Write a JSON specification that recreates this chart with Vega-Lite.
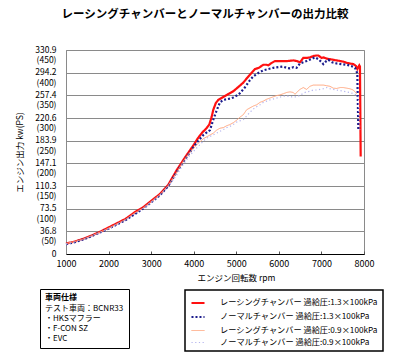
{
  "$schema": "https://vega.github.io/schema/vega-lite/v6.json",
  "autosize": {"type": "none"},
  "width": 298,
  "height": 204,
  "padding": {"left": 66, "top": 50, "right": 36, "bottom": 109},
  "background": "white",
  "config": {
    "font": "Noto Sans CJK JP",
    "view": {"stroke": "#8a8a8a", "strokeWidth": 1}
  },
  "title": {
    "text": "レーシングチャンバーとノーマルチャンバーの出力比較",
    "fontSize": 11.5,
    "fontWeight": "bold",
    "color": "#000000",
    "anchor": "middle",
    "dx": -10,
    "offset": 25
  },
  "datasets": {
    "power": [
      {"s": "レーシングチャンバー 過給圧:1.3×100kPa", "rpm": 1000, "kw": 17},
      {"s": "レーシングチャンバー 過給圧:1.3×100kPa", "rpm": 1200, "kw": 20},
      {"s": "レーシングチャンバー 過給圧:1.3×100kPa", "rpm": 1400, "kw": 24.5},
      {"s": "レーシングチャンバー 過給圧:1.3×100kPa", "rpm": 1600, "kw": 30},
      {"s": "レーシングチャンバー 過給圧:1.3×100kPa", "rpm": 1800, "kw": 36},
      {"s": "レーシングチャンバー 過給圧:1.3×100kPa", "rpm": 2000, "kw": 43},
      {"s": "レーシングチャンバー 過給圧:1.3×100kPa", "rpm": 2200, "kw": 50},
      {"s": "レーシングチャンバー 過給圧:1.3×100kPa", "rpm": 2400, "kw": 57},
      {"s": "レーシングチャンバー 過給圧:1.3×100kPa", "rpm": 2600, "kw": 67},
      {"s": "レーシングチャンバー 過給圧:1.3×100kPa", "rpm": 2800, "kw": 75},
      {"s": "レーシングチャンバー 過給圧:1.3×100kPa", "rpm": 3000, "kw": 86},
      {"s": "レーシングチャンバー 過給圧:1.3×100kPa", "rpm": 3200, "kw": 97},
      {"s": "レーシングチャンバー 過給圧:1.3×100kPa", "rpm": 3400, "kw": 112},
      {"s": "レーシングチャンバー 過給圧:1.3×100kPa", "rpm": 3600, "kw": 136},
      {"s": "レーシングチャンバー 過給圧:1.3×100kPa", "rpm": 3800, "kw": 157},
      {"s": "レーシングチャンバー 過給圧:1.3×100kPa", "rpm": 4000, "kw": 177},
      {"s": "レーシングチャンバー 過給圧:1.3×100kPa", "rpm": 4100, "kw": 188},
      {"s": "レーシングチャンバー 過給圧:1.3×100kPa", "rpm": 4200, "kw": 197},
      {"s": "レーシングチャンバー 過給圧:1.3×100kPa", "rpm": 4300, "kw": 204},
      {"s": "レーシングチャンバー 過給圧:1.3×100kPa", "rpm": 4366, "kw": 210},
      {"s": "レーシングチャンバー 過給圧:1.3×100kPa", "rpm": 4420, "kw": 222},
      {"s": "レーシングチャンバー 過給圧:1.3×100kPa", "rpm": 4460, "kw": 234},
      {"s": "レーシングチャンバー 過給圧:1.3×100kPa", "rpm": 4520, "kw": 245},
      {"s": "レーシングチャンバー 過給圧:1.3×100kPa", "rpm": 4578, "kw": 250},
      {"s": "レーシングチャンバー 過給圧:1.3×100kPa", "rpm": 4700, "kw": 255},
      {"s": "レーシングチャンバー 過給圧:1.3×100kPa", "rpm": 4800, "kw": 259},
      {"s": "レーシングチャンバー 過給圧:1.3×100kPa", "rpm": 4930, "kw": 264},
      {"s": "レーシングチャンバー 過給圧:1.3×100kPa", "rpm": 5050, "kw": 271},
      {"s": "レーシングチャンバー 過給圧:1.3×100kPa", "rpm": 5165, "kw": 278},
      {"s": "レーシングチャンバー 過給圧:1.3×100kPa", "rpm": 5260, "kw": 286},
      {"s": "レーシングチャンバー 過給圧:1.3×100kPa", "rpm": 5362, "kw": 294},
      {"s": "レーシングチャンバー 過給圧:1.3×100kPa", "rpm": 5440, "kw": 300},
      {"s": "レーシングチャンバー 過給圧:1.3×100kPa", "rpm": 5530, "kw": 302},
      {"s": "レーシングチャンバー 過給圧:1.3×100kPa", "rpm": 5635, "kw": 307},
      {"s": "レーシングチャンバー 過給圧:1.3×100kPa", "rpm": 5713, "kw": 307},
      {"s": "レーシングチャンバー 過給圧:1.3×100kPa", "rpm": 5753, "kw": 306},
      {"s": "レーシングチャンバー 過給圧:1.3×100kPa", "rpm": 5831, "kw": 310},
      {"s": "レーシングチャンバー 過給圧:1.3×100kPa", "rpm": 5909, "kw": 313},
      {"s": "レーシングチャンバー 過給圧:1.3×100kPa", "rpm": 6000, "kw": 313},
      {"s": "レーシングチャンバー 過給圧:1.3×100kPa", "rpm": 6104, "kw": 313},
      {"s": "レーシングチャンバー 過給圧:1.3×100kPa", "rpm": 6200, "kw": 313},
      {"s": "レーシングチャンバー 過給圧:1.3×100kPa", "rpm": 6339, "kw": 314},
      {"s": "レーシングチャンバー 過給圧:1.3×100kPa", "rpm": 6417, "kw": 313},
      {"s": "レーシングチャンバー 過給圧:1.3×100kPa", "rpm": 6497, "kw": 311},
      {"s": "レーシングチャンバー 過給圧:1.3×100kPa", "rpm": 6574, "kw": 318},
      {"s": "レーシングチャンバー 過給圧:1.3×100kPa", "rpm": 6652, "kw": 318},
      {"s": "レーシングチャンバー 過給圧:1.3×100kPa", "rpm": 6731, "kw": 319},
      {"s": "レーシングチャンバー 過給圧:1.3×100kPa", "rpm": 6809, "kw": 321},
      {"s": "レーシングチャンバー 過給圧:1.3×100kPa", "rpm": 6880, "kw": 322},
      {"s": "レーシングチャンバー 過給圧:1.3×100kPa", "rpm": 6927, "kw": 322},
      {"s": "レーシングチャンバー 過給圧:1.3×100kPa", "rpm": 7005, "kw": 318},
      {"s": "レーシングチャンバー 過給圧:1.3×100kPa", "rpm": 7044, "kw": 319},
      {"s": "レーシングチャンバー 過給圧:1.3×100kPa", "rpm": 7120, "kw": 317},
      {"s": "レーシングチャンバー 過給圧:1.3×100kPa", "rpm": 7201, "kw": 316},
      {"s": "レーシングチャンバー 過給圧:1.3×100kPa", "rpm": 7280, "kw": 315},
      {"s": "レーシングチャンバー 過給圧:1.3×100kPa", "rpm": 7358, "kw": 314},
      {"s": "レーシングチャンバー 過給圧:1.3×100kPa", "rpm": 7440, "kw": 313},
      {"s": "レーシングチャンバー 過給圧:1.3×100kPa", "rpm": 7514, "kw": 312},
      {"s": "レーシングチャンバー 過給圧:1.3×100kPa", "rpm": 7600, "kw": 310},
      {"s": "レーシングチャンバー 過給圧:1.3×100kPa", "rpm": 7671, "kw": 309},
      {"s": "レーシングチャンバー 過給圧:1.3×100kPa", "rpm": 7750, "kw": 308},
      {"s": "レーシングチャンバー 過給圧:1.3×100kPa", "rpm": 7812, "kw": 305},
      {"s": "レーシングチャンバー 過給圧:1.3×100kPa", "rpm": 7843, "kw": 300},
      {"s": "レーシングチャンバー 過給圧:1.3×100kPa", "rpm": 7890, "kw": 306},
      {"s": "レーシングチャンバー 過給圧:1.3×100kPa", "rpm": 7905, "kw": 304},
      {"s": "レーシングチャンバー 過給圧:1.3×100kPa", "rpm": 7922, "kw": 158},

      {"s": "ノーマルチャンバー 過給圧:1.3×100kPa", "rpm": 1000, "kw": 16},
      {"s": "ノーマルチャンバー 過給圧:1.3×100kPa", "rpm": 1200, "kw": 19},
      {"s": "ノーマルチャンバー 過給圧:1.3×100kPa", "rpm": 1400, "kw": 23.5},
      {"s": "ノーマルチャンバー 過給圧:1.3×100kPa", "rpm": 1600, "kw": 29},
      {"s": "ノーマルチャンバー 過給圧:1.3×100kPa", "rpm": 1800, "kw": 35},
      {"s": "ノーマルチャンバー 過給圧:1.3×100kPa", "rpm": 2000, "kw": 41},
      {"s": "ノーマルチャンバー 過給圧:1.3×100kPa", "rpm": 2200, "kw": 48},
      {"s": "ノーマルチャンバー 過給圧:1.3×100kPa", "rpm": 2400, "kw": 55},
      {"s": "ノーマルチャンバー 過給圧:1.3×100kPa", "rpm": 2600, "kw": 64},
      {"s": "ノーマルチャンバー 過給圧:1.3×100kPa", "rpm": 2800, "kw": 73},
      {"s": "ノーマルチャンバー 過給圧:1.3×100kPa", "rpm": 3000, "kw": 84},
      {"s": "ノーマルチャンバー 過給圧:1.3×100kPa", "rpm": 3200, "kw": 95},
      {"s": "ノーマルチャンバー 過給圧:1.3×100kPa", "rpm": 3400, "kw": 110},
      {"s": "ノーマルチャンバー 過給圧:1.3×100kPa", "rpm": 3600, "kw": 133},
      {"s": "ノーマルチャンバー 過給圧:1.3×100kPa", "rpm": 3800, "kw": 154},
      {"s": "ノーマルチャンバー 過給圧:1.3×100kPa", "rpm": 4000, "kw": 174},
      {"s": "ノーマルチャンバー 過給圧:1.3×100kPa", "rpm": 4100, "kw": 183},
      {"s": "ノーマルチャンバー 過給圧:1.3×100kPa", "rpm": 4226, "kw": 193},
      {"s": "ノーマルチャンバー 過給圧:1.3×100kPa", "rpm": 4382, "kw": 201},
      {"s": "ノーマルチャンバー 過給圧:1.3×100kPa", "rpm": 4460, "kw": 218},
      {"s": "ノーマルチャンバー 過給圧:1.3×100kPa", "rpm": 4540, "kw": 233},
      {"s": "ノーマルチャンバー 過給圧:1.3×100kPa", "rpm": 4617, "kw": 246},
      {"s": "ノーマルチャンバー 過給圧:1.3×100kPa", "rpm": 4700, "kw": 250},
      {"s": "ノーマルチャンバー 過給圧:1.3×100kPa", "rpm": 4852, "kw": 252},
      {"s": "ノーマルチャンバー 過給圧:1.3×100kPa", "rpm": 4930, "kw": 254},
      {"s": "ノーマルチャンバー 過給圧:1.3×100kPa", "rpm": 5010, "kw": 257},
      {"s": "ノーマルチャンバー 過給圧:1.3×100kPa", "rpm": 5087, "kw": 261},
      {"s": "ノーマルチャンバー 過給圧:1.3×100kPa", "rpm": 5200, "kw": 270},
      {"s": "ノーマルチャンバー 過給圧:1.3×100kPa", "rpm": 5322, "kw": 282},
      {"s": "ノーマルチャンバー 過給圧:1.3×100kPa", "rpm": 5400, "kw": 288},
      {"s": "ノーマルチャンバー 過給圧:1.3×100kPa", "rpm": 5479, "kw": 292},
      {"s": "ノーマルチャンバー 過給圧:1.3×100kPa", "rpm": 5557, "kw": 295},
      {"s": "ノーマルチャンバー 過給圧:1.3×100kPa", "rpm": 5635, "kw": 298},
      {"s": "ノーマルチャンバー 過給圧:1.3×100kPa", "rpm": 5750, "kw": 300},
      {"s": "ノーマルチャンバー 過給圧:1.3×100kPa", "rpm": 5870, "kw": 302},
      {"s": "ノーマルチャンバー 過給圧:1.3×100kPa", "rpm": 5990, "kw": 303},
      {"s": "ノーマルチャンバー 過給圧:1.3×100kPa", "rpm": 6104, "kw": 304},
      {"s": "ノーマルチャンバー 過給圧:1.3×100kPa", "rpm": 6180, "kw": 302},
      {"s": "ノーマルチャンバー 過給圧:1.3×100kPa", "rpm": 6261, "kw": 301},
      {"s": "ノーマルチャンバー 過給圧:1.3×100kPa", "rpm": 6340, "kw": 303},
      {"s": "ノーマルチャンバー 過給圧:1.3×100kPa", "rpm": 6417, "kw": 302},
      {"s": "ノーマルチャンバー 過給圧:1.3×100kPa", "rpm": 6497, "kw": 309},
      {"s": "ノーマルチャンバー 過給圧:1.3×100kPa", "rpm": 6574, "kw": 311},
      {"s": "ノーマルチャンバー 過給圧:1.3×100kPa", "rpm": 6652, "kw": 313},
      {"s": "ノーマルチャンバー 過給圧:1.3×100kPa", "rpm": 6750, "kw": 316},
      {"s": "ノーマルチャンバー 過給圧:1.3×100kPa", "rpm": 6849, "kw": 319},
      {"s": "ノーマルチャンバー 過給圧:1.3×100kPa", "rpm": 6927, "kw": 316},
      {"s": "ノーマルチャンバー 過給圧:1.3×100kPa", "rpm": 6990, "kw": 312},
      {"s": "ノーマルチャンバー 過給圧:1.3×100kPa", "rpm": 7044, "kw": 308},
      {"s": "ノーマルチャンバー 過給圧:1.3×100kPa", "rpm": 7100, "kw": 312},
      {"s": "ノーマルチャンバー 過給圧:1.3×100kPa", "rpm": 7162, "kw": 315},
      {"s": "ノーマルチャンバー 過給圧:1.3×100kPa", "rpm": 7250, "kw": 311},
      {"s": "ノーマルチャンバー 過給圧:1.3×100kPa", "rpm": 7358, "kw": 309},
      {"s": "ノーマルチャンバー 過給圧:1.3×100kPa", "rpm": 7470, "kw": 308},
      {"s": "ノーマルチャンバー 過給圧:1.3×100kPa", "rpm": 7593, "kw": 307},
      {"s": "ノーマルチャンバー 過給圧:1.3×100kPa", "rpm": 7700, "kw": 305},
      {"s": "ノーマルチャンバー 過給圧:1.3×100kPa", "rpm": 7789, "kw": 302},
      {"s": "ノーマルチャンバー 過給圧:1.3×100kPa", "rpm": 7843, "kw": 293},
      {"s": "ノーマルチャンバー 過給圧:1.3×100kPa", "rpm": 7867, "kw": 200},

      {"s": "レーシングチャンバー 過給圧:0.9×100kPa", "rpm": 1000, "kw": 17},
      {"s": "レーシングチャンバー 過給圧:0.9×100kPa", "rpm": 1200, "kw": 20},
      {"s": "レーシングチャンバー 過給圧:0.9×100kPa", "rpm": 1400, "kw": 24},
      {"s": "レーシングチャンバー 過給圧:0.9×100kPa", "rpm": 1600, "kw": 29.5},
      {"s": "レーシングチャンバー 過給圧:0.9×100kPa", "rpm": 1800, "kw": 35.5},
      {"s": "レーシングチャンバー 過給圧:0.9×100kPa", "rpm": 2000, "kw": 42},
      {"s": "レーシングチャンバー 過給圧:0.9×100kPa", "rpm": 2200, "kw": 49},
      {"s": "レーシングチャンバー 過給圧:0.9×100kPa", "rpm": 2400, "kw": 56},
      {"s": "レーシングチャンバー 過給圧:0.9×100kPa", "rpm": 2600, "kw": 66},
      {"s": "レーシングチャンバー 過給圧:0.9×100kPa", "rpm": 2800, "kw": 74},
      {"s": "レーシングチャンバー 過給圧:0.9×100kPa", "rpm": 3000, "kw": 85},
      {"s": "レーシングチャンバー 過給圧:0.9×100kPa", "rpm": 3200, "kw": 96},
      {"s": "レーシングチャンバー 過給圧:0.9×100kPa", "rpm": 3400, "kw": 111},
      {"s": "レーシングチャンバー 過給圧:0.9×100kPa", "rpm": 3600, "kw": 132},
      {"s": "レーシングチャンバー 過給圧:0.9×100kPa", "rpm": 3750, "kw": 150},
      {"s": "レーシングチャンバー 過給圧:0.9×100kPa", "rpm": 3900, "kw": 164},
      {"s": "レーシングチャンバー 過給圧:0.9×100kPa", "rpm": 4070, "kw": 177},
      {"s": "レーシングチャンバー 過給圧:0.9×100kPa", "rpm": 4226, "kw": 187},
      {"s": "レーシングチャンバー 過給圧:0.9×100kPa", "rpm": 4382, "kw": 193},
      {"s": "レーシングチャンバー 過給圧:0.9×100kPa", "rpm": 4460, "kw": 196},
      {"s": "レーシングチャンバー 過給圧:0.9×100kPa", "rpm": 4540, "kw": 201},
      {"s": "レーシングチャンバー 過給圧:0.9×100kPa", "rpm": 4617, "kw": 204},
      {"s": "レーシングチャンバー 過給圧:0.9×100kPa", "rpm": 4695, "kw": 205},
      {"s": "レーシングチャンバー 過給圧:0.9×100kPa", "rpm": 4774, "kw": 208},
      {"s": "レーシングチャンバー 過給圧:0.9×100kPa", "rpm": 4852, "kw": 210},
      {"s": "レーシングチャンバー 過給圧:0.9×100kPa", "rpm": 4930, "kw": 213},
      {"s": "レーシングチャンバー 過給圧:0.9×100kPa", "rpm": 5008, "kw": 217},
      {"s": "レーシングチャンバー 過給圧:0.9×100kPa", "rpm": 5087, "kw": 222},
      {"s": "レーシングチャンバー 過給圧:0.9×100kPa", "rpm": 5165, "kw": 226},
      {"s": "レーシングチャンバー 過給圧:0.9×100kPa", "rpm": 5244, "kw": 234},
      {"s": "レーシングチャンバー 過給圧:0.9×100kPa", "rpm": 5322, "kw": 237},
      {"s": "レーシングチャンバー 過給圧:0.9×100kPa", "rpm": 5400, "kw": 240},
      {"s": "レーシングチャンバー 過給圧:0.9×100kPa", "rpm": 5479, "kw": 242},
      {"s": "レーシングチャンバー 過給圧:0.9×100kPa", "rpm": 5557, "kw": 246},
      {"s": "レーシングチャンバー 過給圧:0.9×100kPa", "rpm": 5635, "kw": 248},
      {"s": "レーシングチャンバー 過給圧:0.9×100kPa", "rpm": 5713, "kw": 251},
      {"s": "レーシングチャンバー 過給圧:0.9×100kPa", "rpm": 5792, "kw": 253},
      {"s": "レーシングチャンバー 過給圧:0.9×100kPa", "rpm": 5870, "kw": 255},
      {"s": "レーシングチャンバー 過給圧:0.9×100kPa", "rpm": 5948, "kw": 257},
      {"s": "レーシングチャンバー 過給圧:0.9×100kPa", "rpm": 6026, "kw": 258},
      {"s": "レーシングチャンバー 過給圧:0.9×100kPa", "rpm": 6104, "kw": 260},
      {"s": "レーシングチャンバー 過給圧:0.9×100kPa", "rpm": 6183, "kw": 262},
      {"s": "レーシングチャンバー 過給圧:0.9×100kPa", "rpm": 6261, "kw": 263},
      {"s": "レーシングチャンバー 過給圧:0.9×100kPa", "rpm": 6339, "kw": 262},
      {"s": "レーシングチャンバー 過給圧:0.9×100kPa", "rpm": 6380, "kw": 259},
      {"s": "レーシングチャンバー 過給圧:0.9×100kPa", "rpm": 6417, "kw": 262},
      {"s": "レーシングチャンバー 過給圧:0.9×100kPa", "rpm": 6496, "kw": 267},
      {"s": "レーシングチャンバー 過給圧:0.9×100kPa", "rpm": 6574, "kw": 270},
      {"s": "レーシングチャンバー 過給圧:0.9×100kPa", "rpm": 6652, "kw": 267},
      {"s": "レーシングチャンバー 過給圧:0.9×100kPa", "rpm": 6730, "kw": 272},
      {"s": "レーシングチャンバー 過給圧:0.9×100kPa", "rpm": 6809, "kw": 274},
      {"s": "レーシングチャンバー 過給圧:0.9×100kPa", "rpm": 6890, "kw": 274},
      {"s": "レーシングチャンバー 過給圧:0.9×100kPa", "rpm": 6966, "kw": 274},
      {"s": "レーシングチャンバー 過給圧:0.9×100kPa", "rpm": 7044, "kw": 274},
      {"s": "レーシングチャンバー 過給圧:0.9×100kPa", "rpm": 7122, "kw": 273},
      {"s": "レーシングチャンバー 過給圧:0.9×100kPa", "rpm": 7200, "kw": 272},
      {"s": "レーシングチャンバー 過給圧:0.9×100kPa", "rpm": 7280, "kw": 269},
      {"s": "レーシングチャンバー 過給圧:0.9×100kPa", "rpm": 7358, "kw": 268.5},
      {"s": "レーシングチャンバー 過給圧:0.9×100kPa", "rpm": 7440, "kw": 270},
      {"s": "レーシングチャンバー 過給圧:0.9×100kPa", "rpm": 7514, "kw": 270},
      {"s": "レーシングチャンバー 過給圧:0.9×100kPa", "rpm": 7593, "kw": 269},
      {"s": "レーシングチャンバー 過給圧:0.9×100kPa", "rpm": 7671, "kw": 268},
      {"s": "レーシングチャンバー 過給圧:0.9×100kPa", "rpm": 7749, "kw": 266},
      {"s": "レーシングチャンバー 過給圧:0.9×100kPa", "rpm": 7828, "kw": 260},

      {"s": "ノーマルチャンバー 過給圧:0.9×100kPa", "rpm": 1000, "kw": 16},
      {"s": "ノーマルチャンバー 過給圧:0.9×100kPa", "rpm": 1200, "kw": 19},
      {"s": "ノーマルチャンバー 過給圧:0.9×100kPa", "rpm": 1400, "kw": 23},
      {"s": "ノーマルチャンバー 過給圧:0.9×100kPa", "rpm": 1600, "kw": 28.5},
      {"s": "ノーマルチャンバー 過給圧:0.9×100kPa", "rpm": 1800, "kw": 34.5},
      {"s": "ノーマルチャンバー 過給圧:0.9×100kPa", "rpm": 2000, "kw": 41},
      {"s": "ノーマルチャンバー 過給圧:0.9×100kPa", "rpm": 2200, "kw": 48},
      {"s": "ノーマルチャンバー 過給圧:0.9×100kPa", "rpm": 2400, "kw": 55},
      {"s": "ノーマルチャンバー 過給圧:0.9×100kPa", "rpm": 2600, "kw": 64},
      {"s": "ノーマルチャンバー 過給圧:0.9×100kPa", "rpm": 2800, "kw": 73},
      {"s": "ノーマルチャンバー 過給圧:0.9×100kPa", "rpm": 3000, "kw": 84},
      {"s": "ノーマルチャンバー 過給圧:0.9×100kPa", "rpm": 3200, "kw": 95},
      {"s": "ノーマルチャンバー 過給圧:0.9×100kPa", "rpm": 3400, "kw": 109},
      {"s": "ノーマルチャンバー 過給圧:0.9×100kPa", "rpm": 3600, "kw": 128},
      {"s": "ノーマルチャンバー 過給圧:0.9×100kPa", "rpm": 3750, "kw": 145},
      {"s": "ノーマルチャンバー 過給圧:0.9×100kPa", "rpm": 3900, "kw": 159},
      {"s": "ノーマルチャンバー 過給圧:0.9×100kPa", "rpm": 4070, "kw": 172},
      {"s": "ノーマルチャンバー 過給圧:0.9×100kPa", "rpm": 4226, "kw": 183},
      {"s": "ノーマルチャンバー 過給圧:0.9×100kPa", "rpm": 4305, "kw": 188},
      {"s": "ノーマルチャンバー 過給圧:0.9×100kPa", "rpm": 4450, "kw": 193},
      {"s": "ノーマルチャンバー 過給圧:0.9×100kPa", "rpm": 4540, "kw": 196},
      {"s": "ノーマルチャンバー 過給圧:0.9×100kPa", "rpm": 4617, "kw": 199},
      {"s": "ノーマルチャンバー 過給圧:0.9×100kPa", "rpm": 4700, "kw": 202},
      {"s": "ノーマルチャンバー 過給圧:0.9×100kPa", "rpm": 4774, "kw": 205},
      {"s": "ノーマルチャンバー 過給圧:0.9×100kPa", "rpm": 4852, "kw": 207},
      {"s": "ノーマルチャンバー 過給圧:0.9×100kPa", "rpm": 4930, "kw": 210},
      {"s": "ノーマルチャンバー 過給圧:0.9×100kPa", "rpm": 5008, "kw": 214},
      {"s": "ノーマルチャンバー 過給圧:0.9×100kPa", "rpm": 5087, "kw": 216},
      {"s": "ノーマルチャンバー 過給圧:0.9×100kPa", "rpm": 5165, "kw": 218},
      {"s": "ノーマルチャンバー 過給圧:0.9×100kPa", "rpm": 5244, "kw": 224},
      {"s": "ノーマルチャンバー 過給圧:0.9×100kPa", "rpm": 5322, "kw": 230},
      {"s": "ノーマルチャンバー 過給圧:0.9×100kPa", "rpm": 5400, "kw": 235},
      {"s": "ノーマルチャンバー 過給圧:0.9×100kPa", "rpm": 5479, "kw": 239},
      {"s": "ノーマルチャンバー 過給圧:0.9×100kPa", "rpm": 5557, "kw": 242},
      {"s": "ノーマルチャンバー 過給圧:0.9×100kPa", "rpm": 5635, "kw": 246},
      {"s": "ノーマルチャンバー 過給圧:0.9×100kPa", "rpm": 5713, "kw": 248},
      {"s": "ノーマルチャンバー 過給圧:0.9×100kPa", "rpm": 5792, "kw": 250},
      {"s": "ノーマルチャンバー 過給圧:0.9×100kPa", "rpm": 5900, "kw": 252},
      {"s": "ノーマルチャンバー 過給圧:0.9×100kPa", "rpm": 6000, "kw": 254},
      {"s": "ノーマルチャンバー 過給圧:0.9×100kPa", "rpm": 6104, "kw": 256},
      {"s": "ノーマルチャンバー 過給圧:0.9×100kPa", "rpm": 6200, "kw": 256},
      {"s": "ノーマルチャンバー 過給圧:0.9×100kPa", "rpm": 6300, "kw": 255},
      {"s": "ノーマルチャンバー 過給圧:0.9×100kPa", "rpm": 6417, "kw": 255},
      {"s": "ノーマルチャンバー 過給圧:0.9×100kPa", "rpm": 6496, "kw": 257},
      {"s": "ノーマルチャンバー 過給圧:0.9×100kPa", "rpm": 6574, "kw": 261},
      {"s": "ノーマルチャンバー 過給圧:0.9×100kPa", "rpm": 6652, "kw": 263},
      {"s": "ノーマルチャンバー 過給圧:0.9×100kPa", "rpm": 6730, "kw": 264},
      {"s": "ノーマルチャンバー 過給圧:0.9×100kPa", "rpm": 6809, "kw": 266},
      {"s": "ノーマルチャンバー 過給圧:0.9×100kPa", "rpm": 6887, "kw": 266},
      {"s": "ノーマルチャンバー 過給圧:0.9×100kPa", "rpm": 6966, "kw": 267},
      {"s": "ノーマルチャンバー 過給圧:0.9×100kPa", "rpm": 7044, "kw": 268},
      {"s": "ノーマルチャンバー 過給圧:0.9×100kPa", "rpm": 7122, "kw": 270},
      {"s": "ノーマルチャンバー 過給圧:0.9×100kPa", "rpm": 7200, "kw": 268},
      {"s": "ノーマルチャンバー 過給圧:0.9×100kPa", "rpm": 7280, "kw": 267},
      {"s": "ノーマルチャンバー 過給圧:0.9×100kPa", "rpm": 7358, "kw": 266},
      {"s": "ノーマルチャンバー 過給圧:0.9×100kPa", "rpm": 7440, "kw": 265},
      {"s": "ノーマルチャンバー 過給圧:0.9×100kPa", "rpm": 7514, "kw": 264},
      {"s": "ノーマルチャンバー 過給圧:0.9×100kPa", "rpm": 7593, "kw": 263},
      {"s": "ノーマルチャンバー 過給圧:0.9×100kPa", "rpm": 7671, "kw": 262},
      {"s": "ノーマルチャンバー 過給圧:0.9×100kPa", "rpm": 7749, "kw": 260},
      {"s": "ノーマルチャンバー 過給圧:0.9×100kPa", "rpm": 7828, "kw": 258},
      {"s": "ノーマルチャンバー 過給圧:0.9×100kPa", "rpm": 7867, "kw": 255},
      {"s": "ノーマルチャンバー 過給圧:0.9×100kPa", "rpm": 7900, "kw": 201}
    ],
    "spec": [
      {"item": "テスト車両：BCNR33"},
      {"item": "・HKSマフラー"},
      {"item": "・F-CON SZ"},
      {"item": "・EVC"}
    ]
  },
  "layer": [
    {
      "data": {"name": "power"},
      "mark": {"type": "line", "interpolate": "linear"},
      "encoding": {
        "x": {
          "field": "rpm", "type": "quantitative",
          "scale": {"domain": [1000, 8000], "nice": false},
          "axis": {
            "values": [1000, 2000, 3000, 4000, 5000, 6000, 7000, 8000],
            "format": "d",
            "title": "エンジン回転数 rpm",
            "titleFontSize": 8.5,
            "titleFontWeight": "normal",
            "titleColor": "#000000",
            "titleX": 170,
            "titlePadding": 5,
            "labelFontSize": 9,
            "labelColor": "#000000",
            "labelFlush": false,
            "labelPadding": 8,
            "grid": false,
            "domainColor": "#000000",
            "tickColor": "#555555",
            "tickSize": -3
          }
        },
        "y": {
          "field": "kw", "type": "quantitative",
          "scale": {"domain": [0, 330.9], "nice": false},
          "axis": {
            "values": [0, 36.8, 73.5, 110.3, 147.1, 183.9, 220.6, 257.4, 294.2, 330.9],
            "labelExpr": "datum.value == 0 ? '0' : [format(datum.value, '.1f'), '(' + format(datum.value / 0.7355, '.0f') + ')']",
            "labelFontSize": 8.5,
            "labelColor": "#000000",
            "labelLineHeight": 10.5,
            "labelBaseline": "top",
            "labelOffset": -5,
            "labelFlush": false,
            "labelPadding": 10,
            "ticks": false,
            "grid": true,
            "gridColor": "#8a8a8a",
            "gridWidth": 1,
            "gridOpacity": 1,
            "domainColor": "#8a8a8a",
            "title": "エンジン出力 kw(PS)",
            "titleFontSize": 8.5,
            "titleFontWeight": "normal",
            "titleColor": "#000000",
            "titlePadding": 10
          }
        },
        "color": {
          "field": "s", "type": "nominal",
          "scale": {
            "domain": ["レーシングチャンバー 過給圧:1.3×100kPa", "ノーマルチャンバー 過給圧:1.3×100kPa", "レーシングチャンバー 過給圧:0.9×100kPa", "ノーマルチャンバー 過給圧:0.9×100kPa"],
            "range": ["#ff1010", "#1c1c8c", "#ffa67e", "#b4b4ee"]
          },
          "legend": {
            "title": null,
            "orient": "none",
            "legendX": 119,
            "legendY": 240,
            "direction": "vertical",
            "symbolType": "stroke",
            "symbolSize": 170,
            "labelFontSize": 8.2,
            "labelColor": "#000000",
            "labelOffset": 14,
            "rowPadding": 1,
            "padding": 5,
            "strokeColor": "#000000",
            "labelLimit": 300,
            "encode": {"legend": {"update": {"strokeWidth": {"value": 1.5}}}}
          }
        },
        "strokeDash": {
          "field": "s", "type": "nominal",
          "scale": {
            "domain": ["レーシングチャンバー 過給圧:1.3×100kPa", "ノーマルチャンバー 過給圧:1.3×100kPa", "レーシングチャンバー 過給圧:0.9×100kPa", "ノーマルチャンバー 過給圧:0.9×100kPa"],
            "range": [[1, 0], [2, 2], [1, 0], [1.2, 2.5]]
          }
        },
        "strokeWidth": {
          "field": "s", "type": "nominal",
          "scale": {
            "type": "ordinal",
            "domain": ["レーシングチャンバー 過給圧:1.3×100kPa", "ノーマルチャンバー 過給圧:1.3×100kPa", "レーシングチャンバー 過給圧:0.9×100kPa", "ノーマルチャンバー 過給圧:0.9×100kPa"],
            "range": [2.2, 2.2, 1, 1.2]
          }
        }
      }
    },
    {
      "data": {"name": "spec"},
      "mark": {"type": "point", "opacity": 0},
      "encoding": {
        "shape": {
          "field": "item", "type": "nominal",
          "scale": {"domain": ["テスト車両：BCNR33", "・HKSマフラー", "・F-CON SZ", "・EVC"]},
          "legend": {
            "title": "車両仕様",
            "titleFontSize": 8,
            "titleFontWeight": "bold",
            "titleColor": "#000000",
            "titlePadding": 2.5,
            "orient": "none",
            "legendX": -26,
            "legendY": 239,
            "symbolSize": 64,
            "symbolOpacity": 0,
            "symbolStrokeWidth": 0,
            "labelOffset": -8,
            "labelFontSize": 8,
            "labelColor": "#000000",
            "rowPadding": 2,
            "padding": 5,
            "strokeColor": "#000000",
            "encode": {"legend": {"update": {"strokeWidth": {"value": 1.5}}}}
          }
        }
      }
    }
  ]
}
